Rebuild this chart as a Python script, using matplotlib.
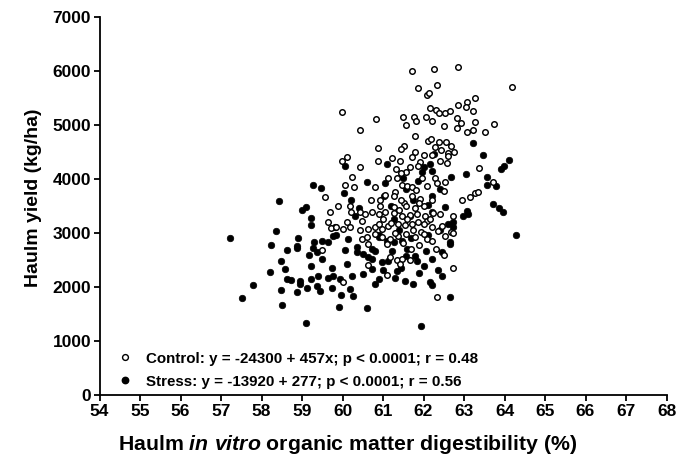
import matplotlib
matplotlib.use("Agg")
import matplotlib.pyplot as plt
from matplotlib.lines import Line2D

plt.rcParams['font.family'] = ['Liberation Sans', 'DejaVu Sans']
plt.rcParams['font.weight'] = 'bold'
plt.rcParams['mathtext.fontset'] = 'custom'
plt.rcParams['mathtext.it'] = 'Liberation Sans:italic:bold'
plt.rcParams['mathtext.rm'] = 'Liberation Sans:bold'

# ---- data ----
control_x = [
    61.72, 62.27, 62.84, 61.87, 62.33, 62.08, 62.14, 63.27, 64.19,
    59.99, 60.83, 60.42, 61.50, 61.77, 61.82, 61.57, 62.05, 62.22, 62.15,
    62.30, 62.38, 62.53, 62.65, 62.51, 61.79, 62.10, 62.19, 62.38, 62.56,
    62.28, 60.87, 59.99, 60.12, 60.87, 60.43, 61.21, 61.42, 61.52, 61.44,
    61.79, 61.71, 62.00, 61.91, 61.87, 61.67, 61.32, 61.57, 62.22, 62.43,
    62.61, 62.41, 62.61, 62.57, 60.24, 60.06, 60.28, 60.80, 60.19, 60.70,
    60.93, 61.13, 61.35, 61.44, 61.46, 61.60, 61.72, 61.81, 61.71, 61.97,
    62.08, 61.91, 61.30, 61.28, 60.93, 61.26, 61.52, 61.58, 59.90, 62.28,
    62.33, 62.53, 62.02, 62.51,
    62.86, 63.07, 63.04, 63.23, 62.82, 62.92, 62.83, 63.07, 63.23, 63.27,
    63.52, 63.74, 62.68, 62.75, 63.38, 63.72, 62.94, 63.16, 63.27, 63.35,
    62.72, 62.69, 62.72,
    59.57, 59.69,
    59.63, 59.72, 59.85, 59.49,
    60.20, 60.43, 60.72, 60.89, 61.05, 61.26, 61.46, 61.67, 61.83, 62.04,
    62.24, 60.10, 60.19, 60.47, 60.43, 60.64, 60.80, 60.97, 61.13, 61.38,
    61.54, 61.71, 61.87, 62.08, 62.20, 62.37, 60.80, 60.97, 61.17, 61.38,
    61.58, 61.79, 61.95, 62.08, 62.20, 62.53, 62.74, 60.02, 60.47, 60.64,
    61.17, 61.34, 61.46, 61.42, 61.67, 60.62, 61.09, 60.02, 62.33,
    61.00, 61.20, 61.40, 61.60, 61.80, 62.00, 62.15, 62.40, 61.10, 61.50,
    61.70, 61.90, 62.30, 62.50, 60.60, 60.90, 61.30, 61.75, 62.00, 62.45,
    61.45, 61.90, 62.20, 60.55, 61.05,
]
control_y = [
    6000, 6030, 6070, 5670, 5730, 5550, 5580, 5500, 5700,
    5240, 5100, 4900, 5145, 5145, 5060, 4990, 5135, 5060, 5300,
    5275, 5205, 5205, 5255, 4980, 4795, 4700, 4730, 4670, 4680,
    4580, 4560, 4330, 4405, 4330, 4220, 4380, 4330, 4610, 4545,
    4485, 4390, 4435, 4310, 4225, 4205, 4175, 4115, 4435, 4530,
    4470, 4330, 4410, 4285, 4035, 3880, 3835, 3835, 3485, 3610,
    3610, 4005, 4010, 4100, 3880, 3855, 3835, 3795, 3680, 4005,
    3870, 3620, 3745, 3680, 3485, 3465, 3545, 3485, 3495, 4005,
    3915, 3930, 3495, 3775,
    5370, 5410, 5320, 5250, 5120, 5020, 4935, 4870, 4905, 5055,
    4855, 5005, 4610, 4495, 4190, 3930, 3610, 3650, 3725, 3755,
    3300, 3005, 2340,
    3650, 3375,
    3190, 3085, 3095, 2675,
    3385, 3375, 3375, 3340, 3375, 3360, 3300, 3325, 3340, 3310,
    3360, 3190, 3095, 3220, 3050, 3065, 3095, 3065, 3125, 3155,
    3140, 3155, 3190, 3220, 3095, 3035, 2970, 2910, 2880, 2940,
    2970, 2910, 3005, 2880, 2850, 2940, 2990, 3065, 2880, 2785,
    2540, 2495, 2510, 2415, 2495, 2400, 2215, 2075, 1800,
    3250, 3180, 3420, 3250, 3450, 3150, 3250, 3350, 2780, 2800,
    2700, 2760, 2700, 2580, 2920, 3150, 3000, 3050, 2980, 3120,
    3600, 3550, 3600, 3350, 3700,
]

stress_x = [
    60.06, 61.09, 62.02, 62.27, 62.16, 61.97, 62.20, 61.87, 61.50, 61.58,
    60.60, 61.05, 60.04, 60.21, 60.41, 61.03, 62.20, 62.12, 62.53,
    63.23, 63.48, 64.12, 63.99, 63.91, 62.69, 63.05, 63.58, 63.56, 63.78,
    63.72, 63.87, 63.97, 63.07,
    63.11, 62.98, 64.28, 62.74, 62.74, 62.65, 62.65,
    59.26, 59.46, 58.43, 58.99, 59.10,
    59.21, 59.21, 58.36, 57.22, 58.89, 58.23, 58.87, 58.88, 59.30, 59.49,
    59.63, 59.84, 59.76, 59.28, 59.18, 59.36, 59.49, 58.62, 58.47, 58.58,
    59.22, 58.21, 59.73, 57.78, 58.62, 58.74, 58.95, 59.21, 59.40, 59.63,
    59.77, 58.95, 59.13, 59.36, 59.44, 58.48, 58.87, 59.75, 57.51, 58.50,
    59.91, 59.10,
    59.82, 60.14, 60.06, 60.35, 60.37, 60.72, 60.80, 60.64, 60.72, 60.97,
    61.13, 61.21, 61.26, 61.46, 61.58, 61.79, 61.83, 62.00, 62.20, 62.45,
    62.65, 62.61, 62.20, 60.72, 60.89, 60.51, 60.10, 60.23, 59.94, 60.19,
    59.96, 60.27, 60.60, 61.54, 62.16, 62.20, 61.94, 61.34, 61.67, 61.26,
    60.89, 61.09,
    60.90, 61.40, 61.70, 62.10, 62.40, 60.50, 61.00, 61.45, 61.90, 62.35,
    60.80, 61.30, 61.75, 62.45, 61.60, 62.05, 60.30, 61.20, 61.75, 62.40,
]
stress_y = [
    4225, 4270, 4205, 4455, 4270, 4125, 4145, 3960, 4005, 3805,
    3930, 3915, 3725, 3610, 3450, 3670, 3680, 3510, 3465,
    4650, 4440, 4350, 4225, 4175, 4035, 4085, 4020, 3880, 3870,
    3530, 3450, 3375, 3405,
    3340, 3300, 2960, 3095, 3200, 2820, 1800,
    3880, 3825, 3590, 3415, 3465,
    3270, 3145, 3035, 2890, 2900, 2775, 2755, 2715, 2820, 2850,
    2820, 2960, 2940, 2705, 2585, 2635, 2510, 2680, 2480, 2325,
    2385, 2260, 2335, 2030, 2140, 2125, 2110, 2140, 2190, 2150,
    2190, 2045, 1970, 2005, 1925, 1935, 1905, 1965, 1780, 1655,
    1625, 1325,
    3095, 2880, 2675, 2725, 2635, 2695, 2665, 2540, 2510, 2445,
    2480, 2665, 2820, 2850, 2570, 2570, 2480, 2385, 2510, 2635,
    2785, 3155, 3375, 2325, 2140, 2230, 2415, 2200, 2140, 1955,
    1845, 1820, 1600, 2110, 2090, 2030, 1260, 2295, 3310, 3250,
    2910, 2850,
    2950, 3050, 2900, 2950, 3050, 2600, 2300, 2350, 2250, 2300,
    2050, 2150, 2050, 2200, 2700, 2650, 3300, 3500, 3600, 3800,
]

x_ticks = list(range(54, 69))
y_ticks = list(range(0, 7001, 1000))
control_label = "Control: y = -24300 + 457x; p < 0.0001; r = 0.48"
stress_label = "Stress: y = -13920 + 277; p < 0.0001; r = 0.56"

W, H = 681, 456
fig = plt.figure(figsize=(W / 100, H / 100), dpi=100)
ax = fig.add_axes([99.5 / W, 1 - 395.5 / H, 567 / W, 378 / H])

ax.scatter(stress_x, stress_y, s=22, c='black', edgecolors='black', linewidths=0.5, zorder=3)
ax.scatter(control_x, control_y, s=16, facecolors='white', edgecolors='black', linewidths=1.05, zorder=4)

ax.set_xlim(54, 68)
ax.set_ylim(0, 7000)
ax.set_xticks(x_ticks)
ax.set_yticks(y_ticks)
for s in ['top', 'right']:
    ax.spines[s].set_visible(False)
for s in ['left', 'bottom']:
    ax.spines[s].set_linewidth(1.3)
ax.tick_params(direction='out', length=4, width=1.3, labelsize=12.5, pad=2)
for lab in ax.get_xticklabels() + ax.get_yticklabels():
    lab.set_fontweight('bold')

fig.text(34 / W, 1 - 197.5 / H, "Haulm yield (kg/ha)", rotation=90, fontsize=14,
         fontweight='bold', ha='center', va='center')
fig.text(347.5 / W, 1 - 445 / H,
         r"Haulm $\mathit{in\ vitro}$ organic matter digestibility (%)",
         fontsize=15.3, fontweight='bold', ha='center', va='center')

handles = [
    Line2D([], [], linestyle='none', marker='o', markersize=4.2, markerfacecolor='white',
           markeredgecolor='black', markeredgewidth=1.0),
    Line2D([], [], linestyle='none', marker='o', markersize=4.6, markerfacecolor='black',
           markeredgecolor='black'),
]
leg = fig.legend(handles, [control_label, stress_label], loc='upper left',
                 bbox_to_anchor=(117.5 / W, 1 - 352 / H), frameon=False,
                 prop={'size': 10.9, 'weight': 'bold'}, borderpad=0, borderaxespad=0,
                 handlelength=1.0, handletextpad=0.9, labelspacing=0.62)

fig.savefig("out.png", dpi=100)
